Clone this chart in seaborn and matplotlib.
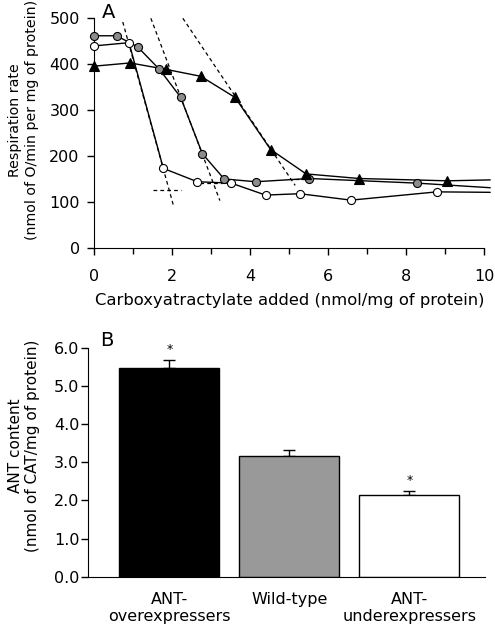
import numpy as np
import pandas as pd
import matplotlib
matplotlib.use("Agg")
import matplotlib.pyplot as plt
import seaborn as sns

# Panel A: respiration rate vs carboxyatractylate added
gray_x = [0, 0.57, 1.11, 1.67, 2.21, 2.77, 3.33, 4.14, 5.51, 8.27, 10.15]
gray_y = [462, 462, 438, 389, 329, 206, 151, 145, 152, 142, 132]
white_x = [0, 0.89, 1.77, 2.64, 3.51, 4.39, 5.27, 6.58, 8.78, 10.15]
white_y = [440, 447, 174, 145, 142, 116, 119, 105, 123, 122]
tri_x = [0, 0.92, 1.84, 2.73, 3.61, 4.52, 5.43, 6.79, 9.05, 10.15]
tri_y = [396, 403, 389, 374, 328, 215, 162, 152, 147, 149]

# tangent / extrapolation dashed lines ([x0, x1], [y0, y1])
dash_lines = [
    ([0.73, 2.03], [492, 93]),
    ([1.45, 3.22], [500, 104]),
    ([2.27, 5.15], [500, 137]),
    ([1.50, 2.22], [126, 126]),
    ([2.53, 3.28], [142, 142]),
    ([5.15, 5.45], [151, 151]),
]

# Panel B: ANT content
groups = ["ANT-\noverexpressers", "Wild-type", "ANT-\nunderexpressers"]
ant_mean = [5.47, 3.16, 2.13]
ant_err = [0.20, 0.15, 0.11]
bar_colors = ["black", "#999999", "white"]
signif = ["*", "", "*"]

sns.set_style("ticks")
plt.rcParams["font.family"] = ["DejaVu Sans"]
for key in ["text.color", "axes.labelcolor", "xtick.color", "ytick.color", "axes.edgecolor"]:
    plt.rcParams[key] = "black"

fig = plt.figure(figsize=(4.95, 6.28), dpi=100)
axA = fig.add_axes([0.1905, 0.6043, 0.788, 0.3666])
axB = fig.add_axes([0.1784, 0.0817, 0.8014, 0.3646])

# ---- Panel A ----
series = [
    (white_x, white_y, "o", "white", 5.8),
    (gray_x, gray_y, "o", "#8c8c8c", 5.8),
    (tri_x, tri_y, "^", "black", 6.8),
]
for xs, ys, mk, fc, ms in series:
    df = pd.DataFrame({"x": xs, "y": ys})
    sns.lineplot(data=df, x="x", y="y", ax=axA, sort=False, color="black",
                 linewidth=1.0, clip_on=False, zorder=3)
    # last point is only where the line leaves the frame, no marker there
    axA.plot(xs[:-1], ys[:-1], linestyle="none", marker=mk, markersize=ms,
             markerfacecolor=fc, markeredgecolor="black", markeredgewidth=0.8,
             clip_on=False, zorder=4)

for xs, ys in dash_lines:
    axA.plot(xs, ys, color="black", linestyle=(0, (3, 2.5)), linewidth=0.9,
             clip_on=False, zorder=2)

axA.set_xlim(0, 10)
axA.set_ylim(0, 500)
axA.set_xticks(range(0, 11, 2))
axA.set_xticks(range(1, 11, 2), minor=True)
axA.set_yticks(range(0, 501, 100))
axA.tick_params(axis="both", direction="out", length=5, width=1, labelsize=11.5)
axA.tick_params(axis="x", pad=10)
axA.tick_params(axis="y", pad=5.5)
axA.tick_params(axis="x", which="minor", direction="out", length=4, width=1)
axA.set_xlabel("Carboxyatractylate added (nmol/mg of protein)", fontsize=11.8, labelpad=6)
axA.set_ylabel("Respiration rate\n(nmol of O/min per mg of protein)", fontsize=10.2)
axA.yaxis.set_label_coords(-0.143, 0.559)
sns.despine(ax=axA)
axA.text(0.02, 1.027, "A", transform=axA.transAxes, fontsize=14, va="center", ha="left")

# ---- Panel B ----
dfB = pd.DataFrame({"group": groups, "ant": ant_mean})
sns.barplot(data=dfB, x="group", y="ant", hue="group", palette=bar_colors,
            legend=False, ax=axB, width=0.833, edgecolor="black", linewidth=1.0,
            errorbar=None, zorder=2)
pos = np.arange(len(groups))
axB.errorbar(pos, ant_mean, yerr=[np.zeros(len(groups)), ant_err], fmt="none",
             ecolor="black", elinewidth=1.0, capsize=4, capthick=1.0, zorder=1)
for p, m, e, s in zip(pos, ant_mean, ant_err, signif):
    if s:
        axB.text(p, m + e + 0.12, s, ha="center", va="bottom", fontsize=9)

axB.set_xlim(-0.675, 2.63)
axB.set_ylim(0, 6)
axB.set_yticks(np.arange(0, 6.1, 1.0))
axB.set_yticklabels([f"{v:.1f}" for v in np.arange(0, 6.1, 1.0)])
axB.tick_params(axis="y", direction="out", length=5, width=1, labelsize=11.5, pad=1.5)
axB.tick_params(axis="x", length=0, labelsize=11.5, pad=11)
axB.set_xlabel("")
axB.set_ylabel("ANT content\n(nmol of CAT/mg of protein)", fontsize=11)
axB.yaxis.set_label_coords(-0.122, 0.571)
sns.despine(ax=axB)
axB.text(0.03, 1.03, "B", transform=axB.transAxes, fontsize=14, va="center", ha="left")

fig.savefig("out.png", dpi=100)
